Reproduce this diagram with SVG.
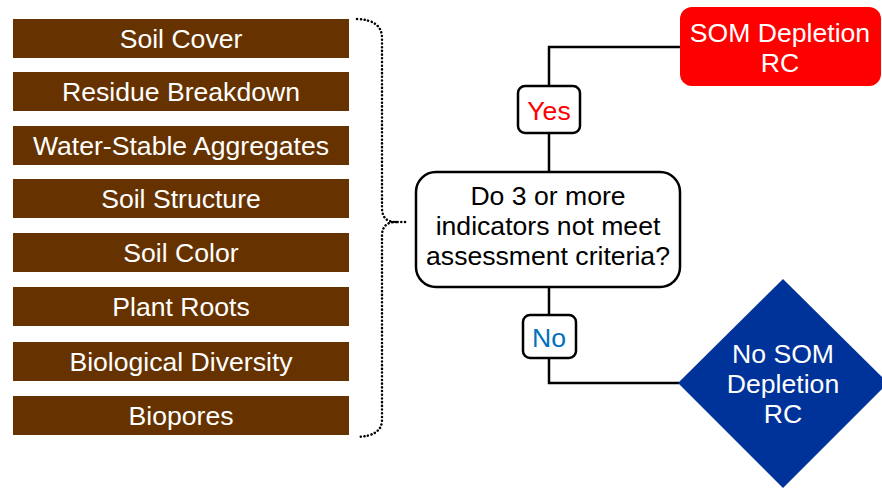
<svg xmlns="http://www.w3.org/2000/svg" width="882" height="490" viewBox="0 0 882 490">
<style>
.ind rect{fill:#663300}
text{font-family:"Liberation Sans",Arial,sans-serif;font-size:26.6px;text-anchor:middle}
.ind text{fill:#ffffff}
.conn{fill:none;stroke:#000;stroke-width:2.5}
.brace{fill:none;stroke:#000;stroke-width:2.5;stroke-dasharray:0.1 3.6;stroke-linecap:round}
.wt{fill:#ffffff}
</style>
<rect width="882" height="490" fill="#ffffff"/>
<g id="connectors">
<path class="brace" d="M357,19 Q382,20 382,38 L382,208 Q382,222 396,222 L407,222 M396,222 Q382,222 382,236 L382,420 Q382,436 357,437"/>
<path class="conn" d="M549,172 L549,47 L680,47"/>
<path class="conn" d="M549,287 L549,383 L679,383"/>
</g>
<g id="ind1" class="ind"><rect x="13" y="19" width="336" height="39"/><text x="181" y="48">Soil Cover</text></g>
<g id="ind2" class="ind"><rect x="13" y="72" width="336" height="39"/><text x="181" y="101">Residue Breakdown</text></g>
<g id="ind3" class="ind"><rect x="13" y="126" width="336" height="39"/><text x="181" y="155">Water-Stable Aggregates</text></g>
<g id="ind4" class="ind"><rect x="13" y="179" width="336" height="39"/><text x="181" y="208">Soil Structure</text></g>
<g id="ind5" class="ind"><rect x="13" y="233" width="336" height="39"/><text x="181" y="262">Soil Color</text></g>
<g id="ind6" class="ind"><rect x="13" y="287" width="336" height="39"/><text x="181" y="316">Plant Roots</text></g>
<g id="ind7" class="ind"><rect x="13" y="342" width="336" height="39"/><text x="181" y="371">Biological Diversity</text></g>
<g id="ind8" class="ind"><rect x="13" y="396" width="336" height="39"/><text x="181" y="425">Biopores</text></g>
<g id="decision">
<rect x="416" y="172" width="264" height="115" rx="20" fill="#ffffff" stroke="#000" stroke-width="2.5"/>
<text x="548" y="205">Do 3 or more</text>
<text x="548" y="235">indicators not meet</text>
<text x="548" y="265">assessment criteria?</text>
</g>
<g id="yes">
<rect x="518" y="86" width="62" height="47" rx="7" fill="#ffffff" stroke="#000" stroke-width="2.5"/>
<text x="549" y="120" fill="#ff0000">Yes</text>
</g>
<g id="no">
<rect x="523" y="315" width="53" height="43" rx="7" fill="#ffffff" stroke="#000" stroke-width="2.5"/>
<text x="549" y="347" fill="#0070c0">No</text>
</g>
<g id="som-depletion">
<rect x="680" y="7" width="201" height="79" rx="12" fill="#ff0000"/>
<text class="wt" x="780" y="42">SOM Depletion</text>
<text class="wt" x="780" y="72">RC</text>
</g>
<g id="no-som-depletion">
<polygon points="678,383 783,279 888,383 783,488" fill="#003399"/>
<text class="wt" x="783" y="363">No SOM</text>
<text class="wt" x="783" y="393">Depletion</text>
<text class="wt" x="783" y="423">RC</text>
</g>
</svg>
